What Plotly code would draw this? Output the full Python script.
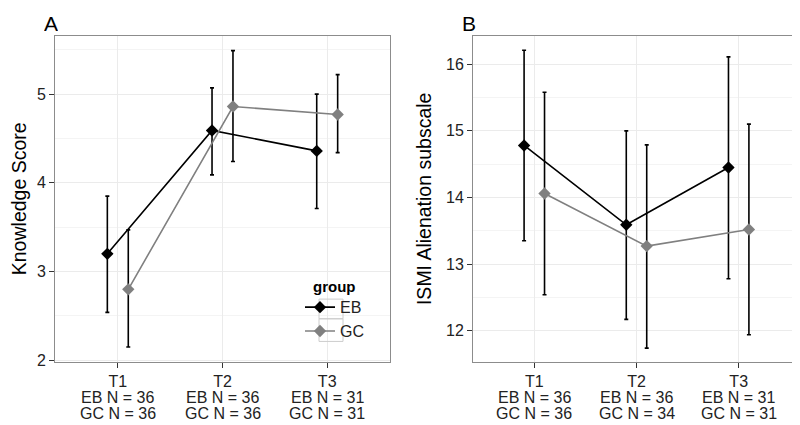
import plotly.graph_objects as go

times = ["T1", "T2", "T3"]
groups = ["EB", "GC"]
n_labels_A = [["36", "36"], ["36", "36"], ["31", "31"]]
n_labels_B = [["36", "36"], ["36", "34"], ["31", "31"]]

# Panel A: Knowledge Score
A_EB_mean = [3.20, 4.59, 4.36]
A_EB_low = [2.54, 4.09, 3.71]
A_EB_high = [3.85, 5.07, 5.00]
A_GC_mean = [2.80, 4.86, 4.77]
A_GC_low = [2.15, 4.24, 4.34]
A_GC_high = [3.47, 5.49, 5.22]

# Panel B: ISMI Alienation subscale
B_EB_mean = [14.78, 13.59, 14.45]
B_EB_low = [13.35, 12.17, 12.78]
B_EB_high = [16.21, 15.00, 16.11]
B_GC_mean = [14.06, 13.27, 13.52]
B_GC_low = [12.54, 11.74, 11.94]
B_GC_high = [15.58, 14.79, 15.10]

colors = {"EB": "#000000", "GC": "#808080"}
dodge = {"EB": -0.1, "GC": 0.1}
FONT = "Liberation Sans, Arial, Helvetica, sans-serif"
TXT = "#222222"

fig = go.Figure()

def add_group(name, mean, low, high, xa, ya, showlegend):
    xs = [i + 1 + dodge[name] for i in range(len(times))]
    fig.add_trace(go.Scatter(
        x=xs, y=mean, mode="lines+markers", name=name,
        line=dict(color=colors[name], width=1.6),
        marker=dict(symbol="diamond", size=9.5, color=colors[name]),
        error_y=dict(type="data", symmetric=False,
                     array=[h - m for h, m in zip(high, mean)],
                     arrayminus=[m - l for m, l in zip(mean, low)],
                     color="#000000", thickness=1.6, width=2),
        xaxis=xa, yaxis=ya, showlegend=showlegend, legendgroup=name,
    ))

add_group("EB", A_EB_mean, A_EB_low, A_EB_high, "x", "y", True)
add_group("GC", A_GC_mean, A_GC_low, A_GC_high, "x", "y", True)
add_group("EB", B_EB_mean, B_EB_low, B_EB_high, "x2", "y2", False)
add_group("GC", B_GC_mean, B_GC_low, B_GC_high, "x2", "y2", False)

W, H = 800, 425
def px(x):
    return x / W
def py(y):
    return 1 - y / H

axis_common = dict(
    showline=True, linecolor="#8c8c8c", linewidth=1, mirror=True,
    ticks="outside", ticklen=5, tickcolor="#333333", tickwidth=1,
    gridcolor="#ebebeb", gridwidth=1, zeroline=False,
    tickfont=dict(size=16, color=TXT, family=FONT),
)

annotations = [
    dict(text="A", x=px(35), y=py(1), xref="paper", yref="paper",
         xanchor="left", yanchor="top", showarrow=False, height=26, borderpad=0,
         font=dict(size=21, family=FONT, color="#000000")),
    dict(text="B", x=px(453), y=py(1), xref="paper", yref="paper",
         xanchor="left", yanchor="top", showarrow=False, height=26, borderpad=0,
         font=dict(size=21, family=FONT, color="#000000")),
    dict(text="<b>group</b>", x=px(303), y=py(283), xref="paper", yref="paper",
         xanchor="left", yanchor="middle", showarrow=False,
         font=dict(size=15, family=FONT, color="#000000")),
]

# second and third lines of the x tick labels (group sizes)
for xref, nl in (("x", n_labels_A), ("x2", n_labels_B)):
    for i, (ne, ng) in enumerate(nl):
        for g, n, ypix in (("EB", ne, 395.7), ("GC", ng, 412.3)):
            annotations.append(dict(
                text=f"{g} N = {n}", x=i + 1, y=py(ypix), xref=xref, yref="paper",
                xanchor="center", yanchor="middle", showarrow=False,
                font=dict(size=16, family=FONT, color=TXT)))

fig.update_layout(
    width=W, height=H,
    margin=dict(l=0, r=0, t=0, b=0),
    paper_bgcolor="white", plot_bgcolor="white",
    font=dict(family=FONT, color="#000000"),
    xaxis=dict(domain=[px(47), px(382)], range=[0.4, 3.6],
               tickvals=[1, 2, 3], ticktext=times,
               anchor="y", **axis_common),
    yaxis=dict(domain=[py(360), py(28)], range=[1.98, 5.66],
               tickvals=[2, 3, 4, 5], anchor="x",
               minor=dict(showgrid=True, gridcolor="#f4f4f4", dtick=0.5, tick0=0, ticks=""),
               title=dict(text="Knowledge Score", font=dict(size=19.5, family=FONT, color="#000000"), standoff=12),
               **axis_common),
    xaxis2=dict(domain=[px(465), px(792)], range=[0.4, 3.6],
                tickvals=[1, 2, 3], ticktext=times,
                anchor="y2", **axis_common),
    yaxis2=dict(domain=[py(360), py(28)], range=[11.53, 16.43],
                tickvals=[12, 13, 14, 15, 16], anchor="x2",
                minor=dict(showgrid=True, gridcolor="#f4f4f4", dtick=0.5, tick0=0, ticks=""),
                title=dict(text="ISMI Alienation subscale", font=dict(size=19.5, family=FONT, color="#000000"), standoff=9),
                **axis_common),
    legend=dict(
        x=px(292), y=py(287), xanchor="left", yanchor="top",
        bgcolor="rgba(255,255,255,0)", font=dict(size=16, family=FONT, color=TXT),
        itemwidth=30, tracegroupgap=0,
    ),
    annotations=annotations,
    shapes=[
        dict(type="rect", xref="paper", yref="paper",
             x0=px(311), x1=px(335), y0=py(296), y1=py(316),
             line=dict(color="#cccccc", width=1), fillcolor="rgba(0,0,0,0)"),
        dict(type="rect", xref="paper", yref="paper",
             x0=px(311), x1=px(335), y0=py(316), y1=py(339),
             line=dict(color="#cccccc", width=1), fillcolor="rgba(0,0,0,0)"),
    ],
)

fig.write_html("out.html")
